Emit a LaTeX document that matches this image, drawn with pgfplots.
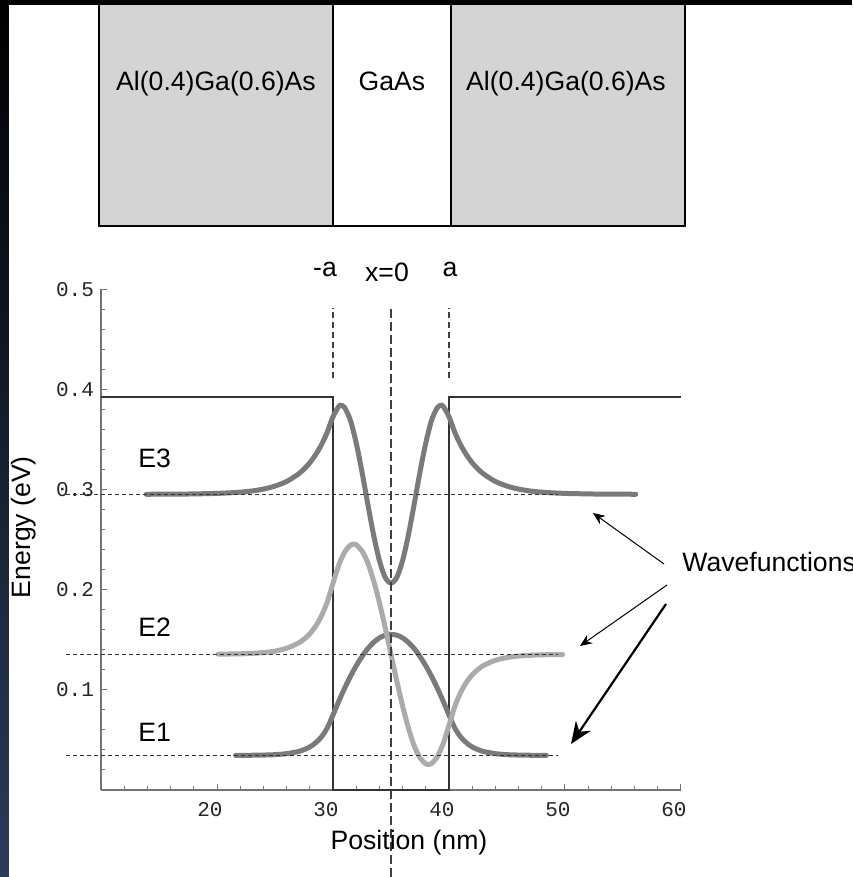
\documentclass[border=0pt]{standalone}
\usepackage{pgfplots}
\pgfplotsset{compat=1.18}
\usepackage{fontspec}
\setmainfont{Liberation Sans}
\newfontfamily\monofont{Liberation Mono}
\usetikzlibrary{arrows.meta}
\definecolor{wfdark}{HTML}{7A7A7A}
\definecolor{wflight}{HTML}{ABABAB}
\definecolor{boxgray}{HTML}{D4D4D4}
\definecolor{stripblue}{RGB}{42,60,90}
\begin{document}
\begin{tikzpicture}[font=\fontsize{13.3}{16}\selectfont]
\fill[white] (-50.5pt,-43.5pt) rectangle (375.5pt,395pt);
% layer structure box
\fill[boxgray] (-1pt,282pt) rectangle (116pt,400pt);
\fill[boxgray] (175pt,282pt) rectangle (292pt,400pt);
\draw[line width=1.1pt] (-1pt,400pt) -- (-1pt,282pt) -- (292pt,282pt) -- (292pt,400pt);
\draw[line width=1.1pt] (116pt,282pt) -- (116pt,400pt);
\draw[line width=1.1pt] (175pt,282pt) -- (175pt,400pt);
\node[anchor=base, inner sep=0pt] at (57.5pt,349.5pt) {Al(0.4)Ga(0.6)As};
\node[anchor=base, inner sep=0pt] at (145.5pt,349.5pt) {GaAs};
\node[anchor=base, inner sep=0pt] at (232.5pt,349.5pt) {Al(0.4)Ga(0.6)As};
\begin{axis}[
  at={(0pt,0pt)}, anchor=south west,
  width=290pt, height=250.35pt, scale only axis,
  xmin=10, xmax=60, ymin=0, ymax=0.5,
  axis lines=left,
  axis line style={-, draw=black!55, line width=0.6pt},
  tick align=inside,
  tick style={draw=black!55, line width=0.5pt},
  major tick length=3pt, minor tick length=1.8pt,
  xtick={20,30,40,50,60},
  minor xtick={12,14,16,18,22,24,26,28,32,34,36,38,42,44,46,48,52,54,56,58},
  ytick={0.1,0.2,0.3,0.4,0.5},
  minor ytick={0.02,0.04,0.06,0.08,0.12,0.14,0.16,0.18,0.22,0.24,0.26,0.28,0.32,0.34,0.36,0.38,0.42,0.44,0.46,0.48},
  /pgf/number format/assume math mode=true,
  tick label style={font=\monofont\fontsize{10.5}{12}\selectfont, text=black!85},
  yticklabel style={/pgf/number format/fixed, /pgf/number format/precision=1},
  xticklabel style={yshift=-2.5pt, xshift=-3.5pt},
  xlabel={Position (nm)},
  xlabel style={at={(axis description cs:0.531,-0.1198)}, anchor=base, inner sep=0pt},
  ylabel={Energy (eV)},
  ylabel style={at={(axis description cs:-0.1207,0.525)}, anchor=base, inner sep=0pt},
  clip=false,
]
% potential
\addplot[black!80, line width=0.7pt] coordinates {(10,0.3926) (30,0.3926) (30,0) (40,0) (40,0.3926) (60,0.3926)};
% E1 wavefunction
\addplot[wfdark, line width=2.5pt, line cap=round, smooth] coordinates {
(21.6,0.0346) (23,0.0347) (24,0.0349) (25,0.0353) (26,0.0363) (27,0.0384) (27.5,0.0403) (28,0.0430) (28.5,0.0471) (29,0.0530) (29.5,0.0619) (30,0.0749) (30.5,0.0887) (31,0.1016) (31.5,0.1134) (32,0.1240) (32.5,0.1333) (33,0.1412) (33.5,0.1474) (34,0.1519) (34.5,0.1546) (35,0.1555) (35.5,0.1546) (36,0.1519) (36.5,0.1474) (37,0.1412) (37.5,0.1333) (38,0.1240) (38.5,0.1134) (39,0.1016) (39.5,0.0887) (40,0.0749) (40.5,0.0619) (41,0.0530) (41.5,0.0471) (42,0.0430) (42.5,0.0403) (43,0.0384) (44,0.0363) (45,0.0353) (46,0.0349) (47,0.0347) (48.4,0.0346)};
% E3 wavefunction
\addplot[wfdark, line width=2.5pt, line cap=round, smooth] coordinates {
(13.9,0.2953) (15,0.2954) (17,0.2955) (19,0.2959) (20,0.2962) (21,0.2967) (22,0.2974) (23,0.2986) (24,0.3005) (25,0.3035) (26,0.3081) (27,0.3154) (27.5,0.3205) (28,0.3268) (28.5,0.3348) (29,0.3447) (29.5,0.3572) (30,0.3728) (30.5,0.3831) (30.7,0.3840) (31,0.3819) (31.5,0.3692) (32,0.3466) (32.5,0.3176) (33,0.2855) (33.5,0.2547) (34,0.2292) (34.5,0.2124) (35,0.2066) (35.5,0.2124) (36,0.2292) (36.5,0.2547) (37,0.2855) (37.5,0.3176) (38,0.3466) (38.5,0.3692) (39,0.3819) (39.3,0.3840) (39.5,0.3831) (40,0.3728) (40.5,0.3572) (41,0.3447) (41.5,0.3348) (42,0.3268) (42.5,0.3205) (43,0.3154) (44,0.3081) (45,0.3035) (46,0.3005) (47,0.2986) (48,0.2974) (49,0.2967) (50,0.2962) (51,0.2959) (53,0.2955) (55,0.2954) (56.1,0.2953)};
% E2 wavefunction
\addplot[wflight, line width=2.5pt, line cap=round, smooth] coordinates {
(20.1,0.1357) (21,0.1358) (22,0.1360) (23,0.1364) (24,0.1372) (25,0.1387) (26,0.1415) (27,0.1466) (27.5,0.1506) (28,0.1560) (28.5,0.1635) (29,0.1737) (29.5,0.1876) (30,0.2065) (30.5,0.2246) (31,0.2376) (31.5,0.2445) (31.8,0.2455) (32,0.2449) (32.5,0.2388) (33,0.2269) (33.5,0.2090) (34,0.1871) (34.5,0.1621) (35,0.1355) (35.5,0.1089) (36,0.0839) (36.5,0.0620) (37,0.0441) (37.5,0.0322) (38,0.0261) (38.2,0.0255) (38.5,0.0265) (39,0.0334) (39.5,0.0464) (40,0.0645) (40.5,0.0834) (41,0.0973) (41.5,0.1075) (42,0.1150) (42.5,0.1204) (43,0.1245) (44,0.1295) (45,0.1323) (46,0.1338) (47,0.1346) (48,0.1350) (49.8,0.1353)};
% energy levels
\addplot[black!80, line width=0.5pt, dash pattern=on 2pt off 1.5pt] coordinates {(7,0.2953) (49.4,0.2953)};
\addplot[black!80, line width=0.5pt, dash pattern=on 2pt off 1.5pt] coordinates {(7,0.1355) (49.4,0.1355)};
\addplot[black!80, line width=0.5pt, dash pattern=on 2pt off 1.5pt] coordinates {(7,0.0345) (49.4,0.0345)};
% well edges and centre
\addplot[black!75, line width=0.6pt, dash pattern=on 3pt off 2pt] coordinates {(30,0.411) (30,0.481)};
\addplot[black!75, line width=0.6pt, dash pattern=on 3pt off 2pt] coordinates {(40,0.411) (40,0.481)};
\addplot[black!75, line width=0.7pt, dash pattern=on 4.5pt off 2pt] coordinates {(35,-0.1) (35,0.481)};
\end{axis}
% annotations (1 px = 0.5 pt, origin at lower-left of axis box)
\node[anchor=base west, inner sep=0pt] at (18.5pt,161pt) {E3};
\node[anchor=base west, inner sep=0pt] at (18.5pt,76.5pt) {E2};
\node[anchor=base west, inner sep=0pt] at (18.5pt,24pt) {E1};
\node[anchor=base, inner sep=0pt] at (112pt,256.5pt) {-a};
\node[anchor=base, inner sep=0pt] at (143pt,254pt) {x=0};
\node[anchor=base, inner sep=0pt] at (174.5pt,256.5pt) {a};
\node[anchor=base west, inner sep=0pt] at (290.5pt,109pt) {Wavefunctions};
\draw[line width=0.5pt, -{Stealth[length=6pt,width=5pt]}] (281.5pt,113pt) -- (246pt,138.5pt);
\draw[line width=0.5pt, -{Stealth[length=6pt,width=5pt]}] (283pt,102.5pt) -- (239.5pt,72pt);
\draw[line width=1.1pt, -{Stealth[length=11pt,width=9pt]}] (282.5pt,93pt) -- (235pt,23pt);
% frame strips
\fill[black] (-50.5pt,392.5pt) rectangle (375.5pt,395pt);
\shade[top color=black, bottom color=stripblue] (-50.5pt,-43.5pt) rectangle (-46pt,395pt);
\pgfresetboundingbox
\path[use as bounding box] (-50.5pt,-43.5pt) rectangle (375.5pt,395pt);
\end{tikzpicture}
\end{document}
